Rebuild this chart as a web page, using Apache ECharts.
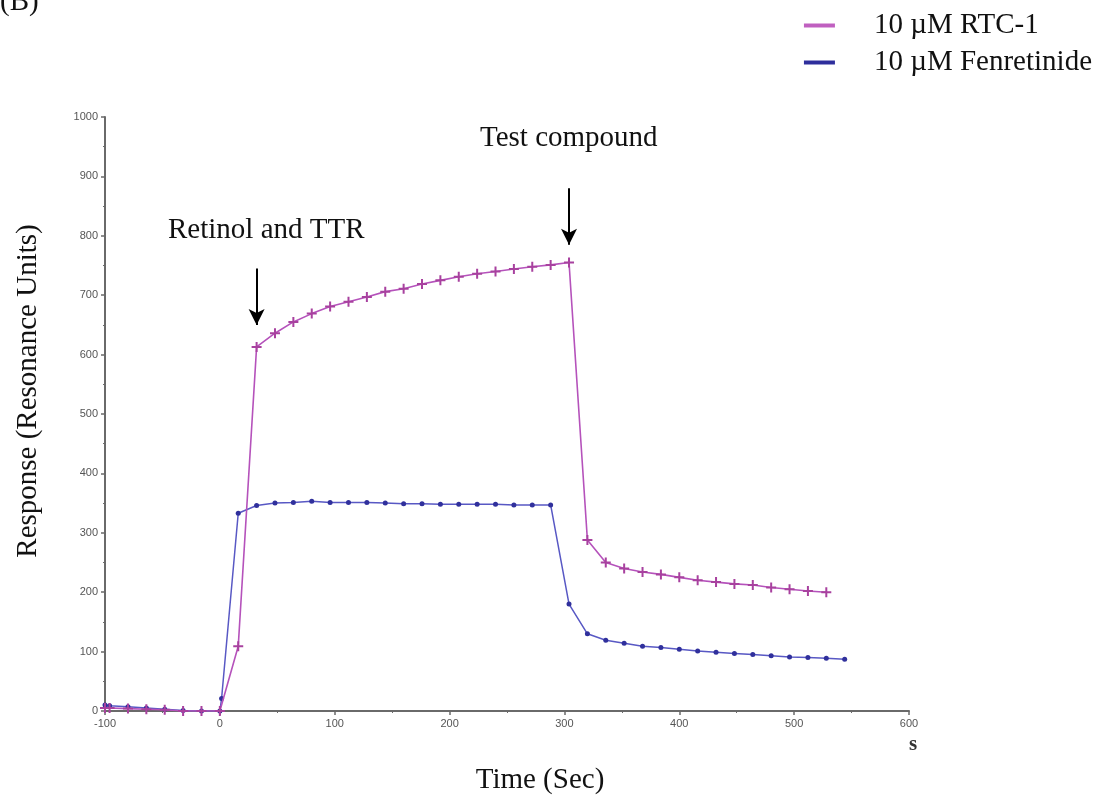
<!DOCTYPE html>
<html><head><meta charset="utf-8">
<script src="https://cdn.jsdelivr.net/npm/echarts@6/dist/echarts.min.js"></script>
<style>html,body{margin:0;padding:0;background:#fff}#c{width:1097px;height:796px}</style>
</head><body><div id="c"></div>
<script>
const rtcTimes  = [-100,-96,-80,-64,-48,-32,-16,0,16,32,48,64,80,96,112,128,144,160,176,192,208,224,240,256,272,288,304,320,336,352,368,384,400,416,432,448,464,480,496,512,528];
const rtcValues = [5,5,4,3,2,0,0,0,109,613,636,655,669,681,689,697,706,711,719,725,731,736,740,744,748,751,755,288,250,240,234,230,225,220,217,214,212,208,205,202,200];
const fenTimes  = [-100,-96,-80,-64,-48,-32,-16,0,1.5,16,32,48,64,80,96,112,128,144,160,176,192,208,224,240,256,272,288,304,320,336,352,368,384,400,416,432,448,464,480,496,512,528,544];
const fenValues = [10,9,7,5,3,1,0,0,21,333,346,350,351,353,351,351,351,350,349,349,348,348,348,348,347,347,347,180,130,119,114,109,107,104,101,99,97,95,93,91,90,89,87];
const xTicks = {min:-100, max:600, interval:100};
const yTicks = {min:0, max:1000, interval:100};
const seriesNames = ['10 \u00b5M RTC-1','10 \u00b5M Fenretinide'];
const arrows = [{t:32, from:745, to:650},{t:304, from:880, to:785}];

const zip = (a,b)=>a.map((t,i)=>[t,b[i]]);
const chart = echarts.init(document.getElementById('c'));
const serif = 'Liberation Serif';
const plus = 'path://M4,0h2v4h4v2h-4v4h-2v-4h-4v-2h4z';
chart.setOption({
  animation:false,
  grid:{left:105,right:188,top:117,bottom:85},
  legend:{
    orient:'vertical', right:0, top:6, itemGap:8, itemWidth:31, itemHeight:4, icon:'rect',
    textStyle:{fontFamily:serif, fontSize:29, color:'#111', padding:[0,0,0,34]},
    data:[{name:seriesNames[0], itemStyle:{color:'#c060c0'}},{name:seriesNames[1], itemStyle:{color:'#2e2e9c'}}]
  },
  xAxis:{type:'value', min:xTicks.min, max:xTicks.max, interval:xTicks.interval,
    axisLine:{onZero:false, lineStyle:{color:'#6a6a6a', width:2}},
    axisTick:{length:4, lineStyle:{color:'#6a6a6a', width:1.5}},
    minorTick:{show:true, splitNumber:2, length:2, lineStyle:{color:'#6a6a6a'}},
    splitLine:{show:false},
    axisLabel:{fontFamily:'Liberation Sans', fontSize:11, color:'#555', margin:7, formatter:v=>String(v)}
  },
  yAxis:{type:'value', min:yTicks.min, max:yTicks.max, interval:yTicks.interval,
    axisLine:{show:true, onZero:false, lineStyle:{color:'#6a6a6a', width:2}},
    axisTick:{show:true, length:4, lineStyle:{color:'#6a6a6a', width:1.5}},
    minorTick:{show:true, splitNumber:2, length:2, lineStyle:{color:'#6a6a6a'}},
    splitLine:{show:false},
    axisLabel:{fontFamily:'Liberation Sans', fontSize:11, color:'#555', margin:7, formatter:v=>String(v)}
  },
  series:[
    {name:seriesNames[0], type:'line', data:zip(rtcTimes,rtcValues),
     symbol:plus, symbolSize:10, lineStyle:{color:'#b552bb', width:1.6},
     itemStyle:{color:'#a8419f'}, z:3,
     markLine:{silent:true, symbol:['none','arrow'], symbolSize:[12,16],
       lineStyle:{color:'#000', width:2, type:'solid'}, label:{show:false},
       data:arrows.map(a=>[{coord:[a.t,a.from]},{coord:[a.t,a.to]}])}
    },
    {name:seriesNames[1], type:'line', data:zip(fenTimes,fenValues),
     symbol:'circle', symbolSize:5, lineStyle:{color:'#5858c4', width:1.5},
     itemStyle:{color:'#30309c'}, z:2}
  ],
  graphic:[
    {type:'text', left:0, top:-12, style:{text:'(B)', font:'29px '+serif, fill:'#111'}},
    {type:'text', x:168, y:230, style:{text:'Retinol and TTR', font:'29px '+serif, fill:'#111', verticalAlign:'middle'}},
    {type:'text', x:480, y:138, style:{text:'Test compound', font:'29px '+serif, fill:'#111', verticalAlign:'middle'}},
    {type:'text', x:28, y:391, rotation:Math.PI/2, style:{text:'Response (Resonance Units)', font:'29px '+serif, fill:'#111', align:'center', verticalAlign:'middle'}},
    {type:'text', x:540, y:780, style:{text:'Time (Sec)', font:'29px '+serif, fill:'#111', align:'center', verticalAlign:'middle'}},
    {type:'text', x:913, y:745, style:{text:'s', font:'bold 21px '+serif, fill:'#333', align:'center', verticalAlign:'middle'}}
  ]
});
</script></body></html>
